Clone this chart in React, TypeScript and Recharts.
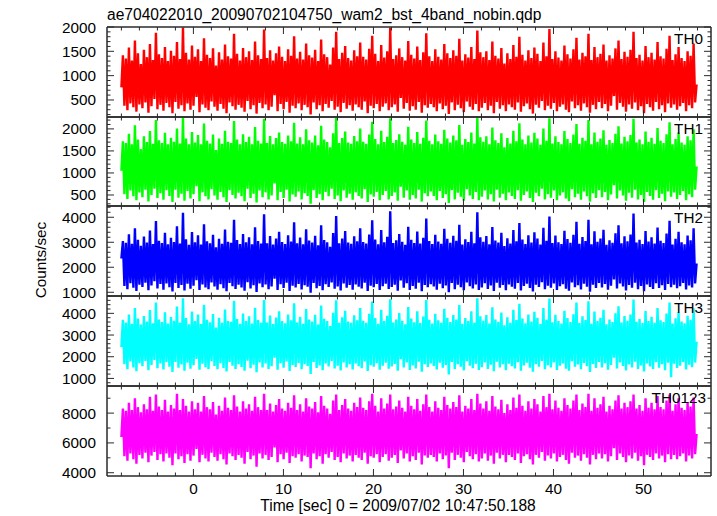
import { Line, LineChart, XAxis, YAxis } from "recharts";

// light curve: time bins start at -8 s, one value per bin
const T_START = -8.0;
const T_STEP = 0.16684;

const th0Counts = [
  760, 1420, 380, 1350, 290, 1580, 430, 1310, 350, 1720, 260, 1460, 410, 1240, 330, 1530,
  450, 1380, 240, 1650, 370, 1320, 520, 1880, 310, 1440, 400, 1360, 280, 1590, 440, 1300,
  350, 1510, 230, 1410, 460, 1690, 320, 1340, 390, 1990, 270, 1470, 430, 1330, 300, 1620,
  380, 1390, 560, 1540, 250, 1300, 410, 1770, 340, 1430, 290, 1360, 470, 1560, 360, 1210,
  280, 1480, 420, 1330, 320, 1640, 230, 1400, 450, 1350, 370, 1860, 300, 1450, 400, 1310,
  340, 1570, 260, 1380, 480, 1500, 310, 1320, 390, 1700, 220, 1420, 440, 1340, 330, 1950,
  410, 1360, 290, 1520, 360, 1310, 600, 1460, 270, 1600, 420, 1390, 310, 1300, 460, 1540,
  240, 1410, 380, 1810, 330, 1350, 430, 1490, 290, 1330, 400, 1660, 350, 1420, 200, 1370,
  450, 1530, 310, 1300, 390, 1740, 270, 1440, 420, 1380, 340, 1230, 480, 1580, 300, 1900,
  360, 1340, 250, 1470, 440, 1610, 320, 1360, 390, 1310, 280, 1520, 410, 1400, 350, 1680,
  300, 1390, 470, 1330, 230, 1550, 380, 1820, 330, 1450, 420, 1300, 270, 1630, 360, 1370,
  430, 1500, 290, 1990, 350, 1340, 410, 1420, 260, 1560, 540, 1380, 320, 1310, 440, 1710,
  280, 1430, 370, 1350, 300, 1600, 460, 1320, 240, 1480, 390, 1870, 340, 1400, 420, 1300,
  350, 1540, 270, 1390, 430, 1330, 310, 1650, 380, 1460, 210, 1360, 450, 1520, 290, 1410,
  400, 1760, 330, 1310, 250, 1440, 470, 1370, 360, 1590, 300, 1340, 420, 1930, 270, 1480,
  340, 1380, 440, 1500, 290, 1320, 380, 1700, 230, 1410, 460, 1350, 320, 1570, 390, 1250,
  270, 1460, 410, 1340, 350, 1630, 300, 1390, 450, 1800, 260, 1430, 370, 1310, 430, 1520,
  310, 1360, 220, 1580, 400, 1450, 340, 1300, 480, 1680, 290, 1400, 380, 1960, 320, 1340,
  440, 1500, 270, 1370, 360, 1310, 410, 1620, 300, 1440, 250, 1350, 470, 1540, 330, 1780,
  390, 1330, 280, 1470, 430, 1400, 350, 1860, 240, 1320, 400, 1590, 310, 1380, 460, 1450,
  330, 1640, 420, 1310, 270, 1420, 380, 1350, 580, 1560, 300, 1720, 440, 1340, 360, 1490,
  260, 1390, 410, 1530, 320, 1900, 450, 1360, 290, 1430, 370, 1310, 230, 1610, 420, 1380,
  350, 1470, 280, 1330, 460, 1690, 310, 1400, 390, 1350, 250, 1550, 430, 1820, 340, 1320,
  410, 1440, 300, 1590, 370, 1360, 440, 1300, 270, 1500, 390, 1410, 330, 1660, 450, 820,
];

const th1Counts = [
  1050, 1720, 520, 1680, 410, 1890, 600, 1650, 470, 2080, 380, 1760, 560, 1540, 450, 1830,
  620, 1700, 350, 1950, 500, 1660, 640, 2200, 430, 1740, 540, 1680, 390, 1910, 610, 1650,
  480, 1800, 340, 1710, 620, 2010, 440, 1670, 530, 2260, 370, 1780, 590, 1650, 420, 1930,
  520, 1690, 700, 1860, 360, 1650, 560, 2120, 470, 1730, 400, 1670, 630, 1870, 490, 1520,
  390, 1780, 570, 1660, 450, 1960, 340, 1710, 610, 1680, 500, 2180, 420, 1760, 550, 1650,
  470, 1880, 360, 1700, 640, 1820, 430, 1650, 530, 2040, 330, 1730, 600, 1670, 450, 2230,
  560, 1680, 400, 1840, 490, 1650, 760, 1790, 380, 1920, 570, 1700, 430, 1660, 620, 1850,
  350, 1720, 510, 2140, 460, 1670, 580, 1810, 400, 1650, 540, 1990, 480, 1740, 300, 1690,
  610, 1850, 430, 1630, 520, 2070, 380, 1760, 570, 1700, 470, 1580, 640, 1900, 410, 2250,
  490, 1680, 360, 1790, 600, 1940, 440, 1690, 530, 1660, 390, 1840, 560, 1720, 480, 2010,
  420, 1710, 630, 1660, 340, 1870, 510, 2160, 460, 1770, 570, 1650, 380, 1960, 500, 1700,
  590, 1820, 400, 2240, 480, 1680, 560, 1750, 370, 1880, 690, 1710, 440, 1640, 600, 2050,
  390, 1760, 500, 1680, 420, 1930, 620, 1660, 350, 1800, 540, 2190, 470, 1730, 580, 1650,
  480, 1870, 380, 1720, 590, 1660, 430, 1980, 520, 1780, 320, 1690, 610, 1850, 400, 1740,
  550, 2090, 460, 1640, 370, 1770, 630, 1700, 490, 1920, 410, 1670, 570, 2260, 380, 1810,
  460, 1710, 600, 1830, 400, 1650, 520, 2030, 350, 1740, 620, 1680, 440, 1900, 530, 1580,
  380, 1790, 560, 1670, 480, 1960, 410, 1720, 610, 2130, 370, 1760, 500, 1650, 580, 1850,
  430, 1690, 340, 1910, 550, 1780, 470, 1640, 640, 2010, 400, 1730, 520, 2240, 440, 1670,
  600, 1830, 380, 1700, 490, 1650, 560, 1950, 420, 1770, 360, 1680, 630, 1870, 450, 2110,
  530, 1660, 390, 1800, 580, 1730, 470, 2200, 350, 1650, 540, 1920, 430, 1710, 610, 1780,
  450, 1970, 570, 1640, 380, 1750, 510, 1680, 720, 1890, 420, 2060, 600, 1670, 490, 1820,
  370, 1720, 550, 1860, 440, 2230, 620, 1690, 400, 1760, 500, 1650, 340, 1940, 570, 1710,
  480, 1800, 390, 1660, 610, 2020, 430, 1730, 530, 1680, 360, 1880, 580, 2150, 460, 1650,
  560, 1770, 410, 1920, 500, 1690, 590, 1640, 380, 1830, 520, 1740, 450, 1990, 620, 1150,
];

const th2Counts = [
  2350, 3050, 1250, 2980, 1120, 3320, 1360, 2940, 1180, 3560, 1050, 3100, 1300, 2860, 1210, 3230,
  1380, 2990, 1080, 3470, 1270, 2930, 1440, 3850, 1150, 3060, 1330, 2970, 1100, 3380, 1350, 2920,
  1200, 3180, 1030, 3010, 1370, 3640, 1170, 2950, 1290, 4180, 1070, 3120, 1340, 2900, 1140, 3410,
  1260, 3000, 1480, 3280, 1090, 2910, 1310, 3720, 1190, 3040, 1120, 2960, 1390, 3300, 1230, 2800,
  1100, 3140, 1320, 2940, 1160, 3510, 1040, 3020, 1370, 2980, 1240, 3900, 1130, 3090, 1300, 2930,
  1190, 3330, 1060, 3000, 1400, 3200, 1150, 2920, 1280, 3600, 1010, 3050, 1350, 2950, 1200, 4120,
  1310, 2960, 1120, 3250, 1230, 2910, 1540, 3150, 1090, 3420, 1320, 3010, 1170, 2930, 1380, 3280,
  1050, 3030, 1260, 3800, 1190, 2960, 1330, 3190, 1110, 2920, 1280, 3520, 1220, 3070, 980, 2990,
  1370, 3260, 1160, 2880, 1250, 3680, 1080, 3090, 1320, 3000, 1210, 2820, 1390, 3370, 1140, 4050,
  1230, 2960, 1070, 3150, 1350, 3450, 1180, 2990, 1290, 2940, 1100, 3240, 1310, 3040, 1220, 3560,
  1150, 3010, 1380, 2950, 1050, 3310, 1260, 3880, 1200, 3110, 1330, 2920, 1090, 3490, 1240, 3000,
  1340, 3220, 1130, 4240, 1210, 2970, 1300, 3080, 1060, 3330, 1470, 3020, 1180, 2900, 1360, 3620,
  1090, 3100, 1250, 2970, 1140, 3430, 1380, 2950, 1040, 3180, 1290, 3950, 1200, 3050, 1320, 2930,
  1230, 3300, 1100, 3030, 1340, 2940, 1160, 3540, 1270, 3140, 1000, 2980, 1370, 3260, 1120, 3060,
  1300, 3700, 1200, 2910, 1080, 3120, 1390, 3010, 1240, 3420, 1150, 2960, 1310, 4200, 1090, 3200,
  1190, 3020, 1360, 3250, 1130, 2920, 1270, 3610, 1050, 3070, 1380, 2990, 1180, 3380, 1290, 2850,
  1080, 3160, 1310, 2950, 1220, 3490, 1140, 3040, 1370, 3770, 1070, 3110, 1250, 2930, 1340, 3280,
  1170, 2990, 1030, 3400, 1300, 3150, 1210, 2910, 1400, 3580, 1120, 3060, 1260, 4030, 1180, 2970,
  1350, 3270, 1090, 3000, 1240, 2930, 1320, 3460, 1140, 3130, 1060, 2980, 1390, 3300, 1200, 3820,
  1280, 2940, 1110, 3210, 1340, 3050, 1220, 3900, 1020, 2920, 1300, 3440, 1170, 3020, 1370, 3150,
  1190, 3500, 1330, 2900, 1100, 3080, 1260, 2980, 1510, 3360, 1150, 3680, 1350, 2960, 1230, 3240,
  1070, 3040, 1290, 3310, 1180, 4150, 1380, 2990, 1120, 3100, 1250, 2930, 1040, 3450, 1310, 3030,
  1210, 3200, 1130, 2950, 1360, 3590, 1170, 3060, 1280, 2970, 1090, 3350, 1330, 3860, 1200, 2910,
  1300, 3140, 1160, 3420, 1240, 3000, 1370, 2920, 1110, 3270, 1270, 3080, 1190, 3560, 1350, 2150,
];

const th3Counts = [
  2450, 3700, 1650, 3580, 1420, 3950, 1780, 3520, 1500, 4250, 1330, 3760, 1700, 3480, 1560, 3880,
  1800, 3620, 1380, 4150, 1620, 3540, 1850, 4500, 1470, 3720, 1690, 3600, 1410, 4050, 1750, 3530,
  1540, 3830, 1300, 3660, 1760, 4320, 1490, 3560, 1640, 4690, 1360, 3780, 1720, 3500, 1450, 4080,
  1610, 3640, 1900, 3940, 1400, 3510, 1680, 4400, 1520, 3700, 1430, 3590, 1790, 3970, 1570, 3350,
  1420, 3790, 1700, 3560, 1480, 4180, 1320, 3650, 1760, 3610, 1590, 4580, 1440, 3740, 1660, 3520,
  1530, 3990, 1350, 3640, 1820, 3860, 1470, 3530, 1630, 4260, 1280, 3690, 1730, 3570, 1510, 4620,
  1690, 3580, 1440, 3900, 1560, 3510, 1950, 3810, 1400, 4100, 1700, 3640, 1490, 3540, 1780, 3950,
  1340, 3680, 1620, 4470, 1530, 3580, 1710, 3840, 1420, 3520, 1650, 4200, 1570, 3720, 1200, 3620,
  1760, 3930, 1480, 3480, 1600, 4360, 1380, 3750, 1690, 3640, 1550, 3420, 1800, 4030, 1460, 4600,
  1580, 3570, 1370, 3820, 1740, 4120, 1500, 3620, 1650, 3560, 1410, 3910, 1690, 3680, 1560, 4250,
  1470, 3660, 1780, 3560, 1340, 3980, 1610, 4550, 1540, 3780, 1700, 3520, 1400, 4160, 1590, 3640,
  1720, 3890, 1450, 4650, 1550, 3580, 1670, 3720, 1360, 4010, 1880, 3660, 1510, 3500, 1740, 4290,
  1390, 3760, 1600, 3590, 1460, 4100, 1770, 3550, 1310, 3850, 1650, 4620, 1530, 3700, 1690, 3530,
  1570, 3980, 1410, 3680, 1720, 3560, 1490, 4210, 1620, 3800, 1180, 3600, 1760, 3920, 1440, 3710,
  1660, 4380, 1540, 3520, 1370, 3780, 1790, 3640, 1590, 4090, 1470, 3570, 1680, 4700, 1390, 3860,
  1520, 3660, 1740, 3920, 1430, 3530, 1630, 4280, 1330, 3720, 1770, 3610, 1500, 4040, 1660, 3450,
  1380, 3820, 1680, 3570, 1560, 4160, 1460, 3690, 1750, 4440, 1350, 3760, 1600, 3540, 1720, 3940,
  1490, 3620, 1310, 4070, 1660, 3800, 1540, 3510, 1800, 4250, 1420, 3700, 1610, 4680, 1500, 3590,
  1730, 3930, 1390, 3640, 1580, 3530, 1690, 4120, 1450, 3780, 1360, 3600, 1790, 3960, 1540, 4500,
  1640, 3550, 1420, 3860, 1710, 3690, 1560, 4560, 1300, 3520, 1670, 4080, 1480, 3650, 1760, 3800,
  1510, 4170, 1700, 3500, 1400, 3710, 1620, 3600, 1950, 4000, 1460, 4330, 1740, 3580, 1570, 3880,
  1370, 3660, 1640, 3950, 1510, 4640, 1770, 3610, 1430, 3740, 1600, 3550, 1320, 4110, 1690, 3650,
  1550, 3840, 1440, 3570, 1750, 4240, 1490, 3680, 1660, 3600, 1380, 3990, 1720, 4500, 1050, 3530,
  1680, 3770, 1480, 4060, 1590, 3620, 1760, 3540, 1410, 3890, 1630, 3700, 1520, 4230, 1730, 2700,
];

const th0123Counts = [
  6400, 8300, 5100, 8150, 4800, 8700, 5300, 8200, 4900, 9000, 4600, 8400, 5200, 8050, 4950, 8600,
  5350, 8250, 4700, 9100, 5150, 8150, 5400, 9250, 4850, 8450, 5250, 8200, 4750, 8900, 5300, 8100,
  5000, 8550, 4500, 8300, 5300, 9300, 4900, 8200, 5100, 8950, 4650, 8500, 5250, 8100, 4800, 8800,
  5150, 8250, 5600, 8700, 4700, 8100, 5200, 9150, 4950, 8400, 4750, 8250, 5350, 8750, 5050, 7900,
  4800, 8500, 5250, 8150, 4900, 9050, 4550, 8350, 5300, 8200, 5100, 9200, 4850, 8450, 5200, 8100,
  5000, 8800, 4600, 8300, 5400, 8600, 4900, 8150, 5150, 9100, 4400, 8400, 5300, 8200, 4950, 9300,
  5200, 8200, 4850, 8650, 5050, 8100, 5700, 8550, 4700, 8950, 5250, 8300, 4900, 8150, 5350, 8700,
  4650, 8350, 5100, 9200, 5000, 8200, 5250, 8600, 4750, 8100, 5150, 9000, 5050, 8450, 4300, 8300,
  5300, 8750, 4900, 8050, 5100, 9150, 4600, 8500, 5250, 8300, 5000, 7950, 5400, 8850, 4850, 9250,
  5050, 8200, 4700, 8550, 5300, 8950, 4950, 8300, 5150, 8150, 4750, 8700, 5200, 8400, 5000, 9050,
  4850, 8350, 5350, 8200, 4600, 8800, 5100, 9300, 5000, 8500, 5250, 8100, 4700, 9000, 5050, 8300,
  5250, 8650, 4800, 9250, 5000, 8250, 5200, 8450, 4650, 8850, 5500, 8350, 4950, 8100, 5300, 9100,
  4750, 8500, 5100, 8250, 4850, 8950, 5350, 8150, 4550, 8600, 5150, 9250, 5000, 8400, 5200, 8100,
  5050, 8800, 4750, 8350, 5300, 8200, 4900, 9100, 5150, 8550, 4300, 8300, 5350, 8750, 4850, 8400,
  5200, 9200, 5000, 8100, 4700, 8500, 5400, 8300, 5100, 8950, 4900, 8200, 5250, 9300, 4750, 8650,
  4950, 8300, 5300, 8800, 4800, 8150, 5150, 9150, 4600, 8450, 5350, 8250, 4950, 8900, 5200, 8000,
  4700, 8600, 5200, 8200, 5050, 9050, 4850, 8350, 5300, 9250, 4650, 8500, 5100, 8150, 5250, 8800,
  4900, 8300, 4550, 8950, 5200, 8600, 5000, 8100, 5400, 9150, 4800, 8400, 5150, 9300, 4950, 8250,
  5300, 8850, 4750, 8350, 5050, 8150, 5200, 9000, 4850, 8550, 4600, 8300, 5350, 8850, 5000, 9250,
  5150, 8200, 4800, 8650, 5250, 8400, 5000, 9300, 4550, 8150, 5200, 9000, 4900, 8350, 5300, 8600,
  4950, 9100, 5250, 8100, 4750, 8500, 5100, 8250, 5650, 8850, 4850, 9200, 5300, 8300, 5050, 8700,
  4700, 8400, 5150, 8800, 4950, 9250, 5350, 8300, 4800, 8550, 5100, 8150, 4500, 9000, 5200, 8350,
  5050, 8700, 4850, 8250, 5300, 9150, 4950, 8400, 5150, 8250, 4700, 8850, 5250, 9250, 4900, 8150,
  5200, 8600, 4900, 9000, 5100, 8350, 5300, 8200, 4750, 8750, 5150, 8450, 4950, 9050, 5250, 6600,
];

// tick labels
const timeLabels = [0, 10, 20, 30, 40, 50];
const th0Labels = [500, 1000, 1500, 2000];
const th1Labels = [500, 1000, 1500, 2000];
const th2Labels = [1000, 2000, 3000, 4000];
const th3Labels = [1000, 2000, 3000, 4000];
const th0123Labels = [4000, 6000, 8000];

const TITLE = "ae704022010_20090702104750_wam2_bst_4band_nobin.qdp";
const X_TITLE = "Time [sec] 0 = 2009/07/02 10:47:50.188";
const Y_TITLE = "Counts/sec";

const W = 717;
const LEFT = 107;
const RIGHT = 711;
const PAD = 14;
const FONT = "'Liberation Sans', Arial, Helvetica, sans-serif";
const INK = "#2a2a2a";
const X_DOMAIN: [number, number] = [-9.6, 57.5];

const steps = (from: number, to: number, step: number) => {
  const out: number[] = [];
  for (let v = from; v <= to + 1e-9; v += step) out.push(Math.round(v * 100) / 100);
  return out;
};

const timeTicks = steps(-8, 56, 2);

const PANELS = [
  { name: "TH0", values: th0Counts, color: "#ff0000", domain: [150, 2000], labels: th0Labels, minor: steps(200, 2000, 100), top: 27, bottom: 117, nameX: 703 },
  { name: "TH1", values: th1Counts, color: "#00ff00", domain: [250, 2270], labels: th1Labels, minor: steps(300, 2200, 100), top: 117, bottom: 206, nameX: 703 },
  { name: "TH2", values: th2Counts, color: "#0000ff", domain: [850, 4450], labels: th2Labels, minor: steps(1000, 4400, 200), top: 206, bottom: 296, nameX: 703 },
  { name: "TH3", values: th3Counts, color: "#00ffff", domain: [650, 4800], labels: th3Labels, minor: steps(800, 4800, 200), top: 296, bottom: 386, nameX: 703 },
  { name: "TH0123", values: th0123Counts, color: "#ff00ff", domain: [3780, 9820], labels: th0123Labels, minor: steps(4000, 9000, 1000), top: 386, bottom: 476, nameX: 706 },
];

const leftTick = (labels: number[]) => (p: any) => {
  const v = p.payload.value;
  const major = labels.includes(v);
  const x = Number(p.x);
  const y = Number(p.y);
  return (
    <g>
      <path d={`M${x},${y}H${x + (major ? 7 : 3.5)}`} stroke={INK} strokeWidth={1} fill="none" />
      {major && (
        <text x={x - 11} y={y} dy="0.36em" textAnchor="end" fontSize={15.3} fontFamily={FONT} fill="#000">
          {v}
        </text>
      )}
    </g>
  );
};

const rightTick = (labels: number[]) => (p: any) => {
  const major = labels.includes(p.payload.value);
  const x = Number(p.x);
  const y = Number(p.y);
  return <path d={`M${x},${y}H${x - (major ? 7 : 3.5)}`} stroke={INK} strokeWidth={1} fill="none" />;
};

const topTick = (p: any) => {
  const major = timeLabels.includes(p.payload.value);
  const x = Number(p.x);
  const y = Number(p.y);
  return <path d={`M${x},${y}V${y + (major ? 7 : 3.5)}`} stroke={INK} strokeWidth={1} fill="none" />;
};

const bottomTick = (withLabels: boolean) => (p: any) => {
  const v = p.payload.value;
  const major = timeLabels.includes(v);
  const x = Number(p.x);
  const y = Number(p.y);
  return (
    <g>
      <path d={`M${x},${y}V${y - (major ? 7 : 3.5)}`} stroke={INK} strokeWidth={1} fill="none" />
      {withLabels && major && (
        <text x={x} y={y + 18} textAnchor="middle" fontSize={15.3} fontFamily={FONT} fill="#000">
          {v}
        </text>
      )}
    </g>
  );
};

function Panel({ panel, last }: { panel: (typeof PANELS)[number]; last: boolean }) {
  const data = panel.values.map((v, i) => ({ t: T_START + i * T_STEP, v }));
  const h = panel.bottom - panel.top;
  const bottomPad = last ? 44 : PAD;
  const frame = { stroke: INK, strokeWidth: 1.5 };
  const yTicks = Array.from(new Set([...panel.minor, ...panel.labels])).sort((a, b) => a - b);
  return (
    <div style={{ position: "absolute", left: 0, top: panel.top - PAD }}>
      <LineChart width={W} height={h + PAD + bottomPad} data={data} margin={{ top: PAD - 1, right: 0, bottom: bottomPad - 1, left: 0 }}>
        <XAxis
          dataKey="t"
          type="number"
          domain={X_DOMAIN}
          allowDataOverflow
          ticks={timeTicks}
          interval={0}
          height={1}
          tickSize={0}
          tickMargin={0}
          tickLine={false}
          axisLine={frame}
          tick={bottomTick(last)}
        />
        <XAxis
          xAxisId="top"
          orientation="top"
          dataKey="t"
          type="number"
          domain={X_DOMAIN}
          allowDataOverflow
          ticks={timeTicks}
          interval={0}
          height={1}
          tickSize={0}
          tickMargin={0}
          tickLine={false}
          axisLine={frame}
          tick={topTick}
        />
        <YAxis
          type="number"
          domain={panel.domain}
          allowDataOverflow
          ticks={yTicks}
          interval={0}
          width={LEFT}
          tickSize={0}
          tickMargin={0}
          tickLine={false}
          axisLine={frame}
          tick={leftTick(panel.labels)}
        />
        <YAxis
          yAxisId="right"
          orientation="right"
          type="number"
          domain={panel.domain}
          allowDataOverflow
          ticks={yTicks}
          interval={0}
          width={W - RIGHT}
          tickSize={0}
          tickMargin={0}
          tickLine={false}
          axisLine={frame}
          tick={rightTick(panel.labels)}
        />
        <Line
          dataKey="v"
          type="linear"
          stroke={panel.color}
          strokeWidth={2.4}
          strokeLinejoin="bevel"
          dot={false}
          activeDot={false}
          isAnimationActive={false}
        />
      </LineChart>
    </div>
  );
}

export default function App() {
  return (
    <div style={{ position: "absolute", left: 0, top: 0, width: W, height: 516, background: "#fff", overflow: "hidden" }}>
      {PANELS.map((p, i) => (
        <Panel key={p.name} panel={p} last={i === PANELS.length - 1} />
      ))}
      <svg width={W} height={516} style={{ position: "absolute", left: 0, top: 0, pointerEvents: "none" }}>
        <text x={LEFT} y={20} fontSize={15.6} fontFamily={FONT} fill="#000">
          {TITLE}
        </text>
        {PANELS.map((p) => (
          <text key={p.name} x={p.nameX} y={p.top + 16.5} textAnchor="end" fontSize={15.3} fontFamily={FONT} fill="#000">
            {p.name}
          </text>
        ))}
        <text x={45.5} y={260} transform="rotate(-90 45.5 260)" textAnchor="middle" fontSize={15.3} fontFamily={FONT} fill="#000">
          {Y_TITLE}
        </text>
        <text x={398} y={511} textAnchor="middle" fontSize={15.6} fontFamily={FONT} fill="#000">
          {X_TITLE}
        </text>
      </svg>
    </div>
  );
}
